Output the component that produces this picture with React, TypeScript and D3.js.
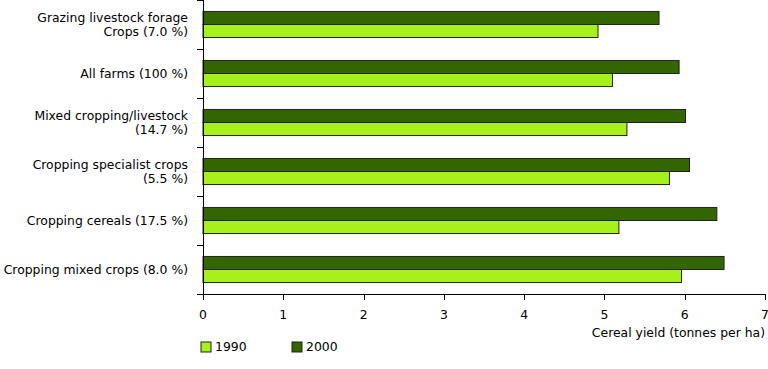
import React, { useEffect, useRef } from "react";
import * as d3 from "d3";

// categories top to bottom, each label split into lines
const categories = [
  ["Grazing livestock forage", "Crops (7.0 %)"],
  ["All farms (100 %)"],
  ["Mixed cropping/livestock", "(14.7 %)"],
  ["Cropping specialist crops", "(5.5 %)"],
  ["Cropping cereals (17.5 %)"],
  ["Cropping mixed crops (8.0 %)"],
];
const values2000 = [5.68, 5.93, 6.01, 6.06, 6.4, 6.49];
const values1990 = [4.92, 5.1, 5.28, 5.81, 5.18, 5.96];
const xTicks = [0, 1, 2, 3, 4, 5, 6, 7];
const seriesNames = ["1990", "2000"];

export default function App() {
  const ref = useRef<SVGSVGElement>(null);

  useEffect(() => {
    const width = 768;
    const height = 369;
    const left = 203;
    const right = 765;
    const top = 0;
    const bottom = 294;
    const dark = "#336600";
    const light = "#a8f01c";
    const font = "Verdana, 'DejaVu Sans', sans-serif";
    const fs = 12.4;

    const svg = d3.select(ref.current);
    svg.selectAll("*").remove();
    svg.attr("width", width).attr("height", height).style("font-family", font);

    const x = d3.scaleLinear().domain([0, 7]).range([left, right]);
    const ids = categories.map((_, i) => i);
    const y = d3.scaleBand<number>().domain(ids).range([top, bottom]).paddingInner(0).paddingOuter(0);
    const inner = d3
      .scaleBand<string>()
      .domain(["2000", "1990"])
      .range([0, y.bandwidth()])
      .paddingInner(0)
      .paddingOuter(0.88);

    const rows = ids.map((i) => ({ i, v2000: values2000[i], v1990: values1990[i] }));

    const g = svg.append("g");
    const groups = g
      .selectAll("g.row")
      .data(rows)
      .join("g")
      .attr("transform", (d) => `translate(0,${y(d.i)})`);

    groups
      .append("rect")
      .attr("x", x(0))
      .attr("y", inner("2000")!)
      .attr("width", (d) => x(d.v2000) - x(0))
      .attr("height", inner.bandwidth())
      .attr("fill", dark)
      .attr("stroke", "#222")
      .attr("stroke-width", 1);

    groups
      .append("rect")
      .attr("x", x(0))
      .attr("y", inner("1990")!)
      .attr("width", (d) => x(d.v1990) - x(0))
      .attr("height", inner.bandwidth())
      .attr("fill", light)
      .attr("stroke", "#222")
      .attr("stroke-width", 1);

    // category labels
    groups.each(function (d) {
      const lines = categories[d.i];
      const cy = y.bandwidth() / 2;
      const lh = 14;
      const t = d3
        .select(this)
        .append("text")
        .attr("text-anchor", "end")
        .attr("font-size", fs)
        .attr("fill", "#000");
      lines.forEach((line, k) => {
        t.append("tspan")
          .attr("x", 188)
          .attr("y", cy + (k - (lines.length - 1) / 2) * lh)
          .attr("dy", "0.35em")
          .text(line);
      });
    });

    // y axis line and ticks at band edges
    const axisColor = "#000";
    g.append("line")
      .attr("x1", left + 0.5)
      .attr("x2", left + 0.5)
      .attr("y1", top)
      .attr("y2", bottom)
      .attr("stroke", axisColor);
    g.selectAll("line.ytick")
      .data([...ids, ids.length])
      .join("line")
      .attr("x1", left - 6)
      .attr("x2", left)
      .attr("y1", (i) => Math.round(top + i * y.step()) + 0.5)
      .attr("y2", (i) => Math.round(top + i * y.step()) + 0.5)
      .attr("stroke", axisColor);

    // x axis
    g.append("line")
      .attr("x1", left - 6)
      .attr("x2", right)
      .attr("y1", bottom + 0.5)
      .attr("y2", bottom + 0.5)
      .attr("stroke", axisColor);
    g.selectAll("line.xtick")
      .data(xTicks)
      .join("line")
      .attr("x1", (v) => Math.round(x(v)) + 0.5)
      .attr("x2", (v) => Math.round(x(v)) + 0.5)
      .attr("y1", bottom)
      .attr("y2", bottom + 6)
      .attr("stroke", axisColor);
    g.selectAll("text.xlab")
      .data(xTicks)
      .join("text")
      .attr("x", (v) => x(v))
      .attr("y", 315)
      .attr("dy", "0.35em")
      .attr("text-anchor", "middle")
      .attr("font-size", fs)
      .text((v) => String(v));

    g.append("text")
      .attr("x", right)
      .attr("y", 333)
      .attr("dy", "0.35em")
      .attr("text-anchor", "end")
      .attr("font-size", fs)
      .text("Cereal yield (tonnes per ha)");

    // legend
    const legend = g
      .selectAll("g.leg")
      .data(seriesNames)
      .join("g")
      .attr("transform", (_, i) => `translate(${201 + i * 91},342)`);
    legend
      .append("rect")
      .attr("width", 10)
      .attr("height", 10)
      .attr("fill", (s) => (s === "1990" ? light : dark))
      .attr("stroke", "#222");
    legend
      .append("text")
      .attr("x", 14)
      .attr("y", 5)
      .attr("dy", "0.35em")
      .attr("font-size", fs)
      .text((s) => s);
  }, []);

  return <svg ref={ref} style={{ position: "absolute", left: 0, top: 0 }} />;
}
